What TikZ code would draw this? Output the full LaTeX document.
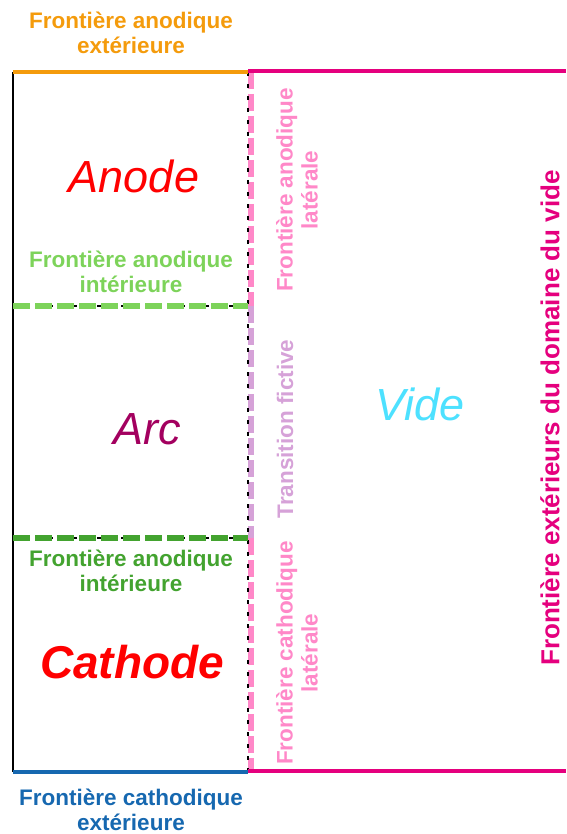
\documentclass[tikz,border=0pt]{standalone}
\usepackage{fontspec}
\setmainfont{Liberation Sans}
\usepackage{xcolor}
\usepackage{tikz}
\definecolor{anorange}{HTML}{F49B0C}
\definecolor{vidmag}{HTML}{E5007E}
\definecolor{ingreen}{HTML}{7DD35A}
\definecolor{indkgreen}{HTML}{43A32F}
\definecolor{catblue}{HTML}{1668B0}
\definecolor{latpink}{HTML}{FF88C8}
\definecolor{fictlilac}{HTML}{D6A2D8}
\definecolor{arcpurple}{HTML}{A3005F}
\definecolor{videcyan}{HTML}{4DE1FF}
\tikzset{
  lbl/.style={align=center,inner sep=0pt,font=\bfseries\fontsize{22.5}{25}\selectfont},
  vlbl/.style={lbl,rotate=90},
  big/.style={inner sep=0pt,font=\itshape\fontsize{45}{48}\selectfont},
  wall/.style={line width=2pt,black},
  ticks/.style={line width=1.3pt,black,dash pattern=on 4pt off 8pt},
  thickdash/.style={line width=6pt,dash pattern=on 17pt off 5pt},
  edge/.style={line width=4.5pt},
}

\begin{document}
\begin{tikzpicture}[x=1pt,y=-1pt]
  \useasboundingbox (0,0) rectangle (566,834);
  % corners of the domain
  \coordinate (tl) at (13,72);
  \coordinate (tm) at (248,72);
  \coordinate (tr) at (566,72);
  \coordinate (ml) at (13,306);
  \coordinate (mm) at (248,306);
  \coordinate (nl) at (13,538);
  \coordinate (nm) at (248,538);
  \coordinate (bl) at (13,772);
  \coordinate (bm) at (248,772);
  \coordinate (br) at (566,772);
  % outer walls
  \draw[wall] (tl) -- (bl);
  \draw[thickdash,latpink] ([xshift=2.5pt]tm) -- ([xshift=2.5pt]mm);
  \draw[thickdash,fictlilac] ([xshift=2.5pt]mm) -- ([xshift=2.5pt]nm);
  \draw[thickdash,latpink] ([xshift=2.5pt]nm) -- ([xshift=2.5pt]bm);
  \draw[ticks] (tm) -- (bm);
  % interior boundaries
  \draw[ticks] (ml) -- (mm);
  \draw[thickdash,ingreen] (ml) -- (mm);
  \draw[ticks] (nl) -- (nm);
  \draw[thickdash,indkgreen] (nl) -- (nm);
  % top and bottom edges
  \draw[edge,anorange] (tl) -- (tm);
  \draw[edge,vidmag] ([yshift=1pt]tm) -- ([yshift=1pt]tr);
  \draw[edge,catblue] (bl) -- (bm);
  \draw[edge,vidmag] ([yshift=1pt]bm) -- ([yshift=1pt]br);
  % labels
  \node[lbl,text=anorange] (anext) at (131,33) {Frontière anodique\\extérieure};
  \node[big,text=red] (anode) at (134,176) {Anode};
  \node[lbl,text=ingreen] (anint) at (131,272) {Frontière anodique\\intérieure};
  \node[big,text=arcpurple] (arc) at (147,429) {Arc};
  \node[lbl,text=indkgreen] (catint) at (131,571) {Frontière anodique\\intérieure};
  \node[big,font=\bfseries\itshape\fontsize{46}{48}\selectfont,text=red] (cathode) at (132,662) {Cathode};
  \node[lbl,text=catblue] (catext) at (131,810) {Frontière cathodique\\extérieure};
  \node[vlbl,text=latpink] (anlat) at (297,190) {Frontière anodique\\latérale};
  \node[vlbl,text=fictlilac] (fict) at (285,429) {Transition fictive};
  \node[vlbl,text=latpink] (catlat) at (297,653) {Frontière cathodique\\latérale};
  \node[big,text=videcyan] (vide) at (420,404) {Vide};
  \node[vlbl,font=\bfseries\fontsize{26}{28}\selectfont,text=vidmag] (videxe) at (550,418) {Frontière extérieurs du domaine du vide};
\end{tikzpicture}
\end{document}
